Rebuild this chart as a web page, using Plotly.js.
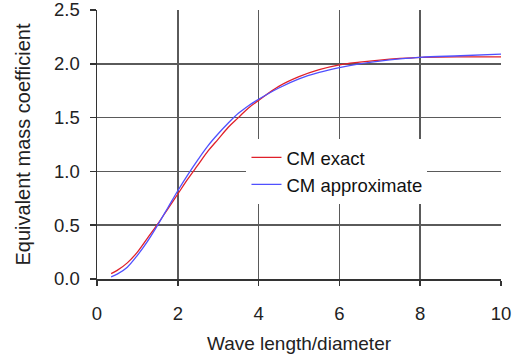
<!DOCTYPE html>
<html>
<head>
<meta charset="utf-8">
<script src="https://cdn.plot.ly/plotly-3.0.1.min.js"></script>
<style>html,body{margin:0;padding:0;background:#fff;}#chart{width:512px;height:360px;}</style>
</head>
<body>
<div id="chart"></div>
<script>
const ratio = [0.35, 0.5, 0.75, 1.0, 1.25, 1.5, 1.75, 2.0, 2.25, 2.5, 2.75, 3.0, 3.25, 3.5, 3.75, 4.0, 4.5, 5.0, 5.5, 6.0, 6.5, 7.0, 7.5, 8.0, 9.0, 10.0];
const cmExact = [0.05, 0.08, 0.15, 0.25, 0.38, 0.51, 0.65, 0.79, 0.93, 1.06, 1.19, 1.30, 1.41, 1.50, 1.59, 1.66, 1.79, 1.88, 1.945, 1.99, 2.015, 2.035, 2.05, 2.06, 2.065, 2.065];
const cmApprox = [0.02, 0.045, 0.11, 0.22, 0.35, 0.50, 0.66, 0.82, 0.97, 1.11, 1.24, 1.35, 1.45, 1.54, 1.61, 1.67, 1.775, 1.86, 1.92, 1.965, 2.00, 2.025, 2.045, 2.06, 2.075, 2.09];
const xTicks = [0, 2, 4, 6, 8, 10];
const yTicks = [0, 0.5, 1.0, 1.5, 2.0, 2.5];
const yTickText = ['0.0', '0.5', '1.0', '1.5', '2.0', '2.5'];

const traces = [
  {x: ratio, y: cmExact, type: 'scatter', mode: 'lines', name: 'CM exact',
   line: {color: '#e0202a', width: 1.3, shape: 'spline'}},
  {x: ratio, y: cmApprox, type: 'scatter', mode: 'lines', name: 'CM approximate',
   line: {color: '#5050ff', width: 1.3, shape: 'spline'}}
];

const layout = {
  width: 512, height: 360,
  margin: {l: 97, r: 11, t: 10, b: 81},
  paper_bgcolor: '#fff', plot_bgcolor: '#fff',
  font: {family: 'Liberation Sans, Arial, sans-serif', size: 18.5, color: '#222'},
  showlegend: true,
  legend: {x: 0.37, y: 0.40, xanchor: 'left', yanchor: 'middle', bgcolor: '#fff',
           font: {size: 18.5, color: '#111'}, tracegroupgap: 0, itemwidth: 30},
  xaxis: {
    range: [0, 10], tickvals: xTicks, ticktext: xTicks.map(String),
    showgrid: true, gridcolor: '#5a5a5a', gridwidth: 1.5,
    showline: true, linecolor: '#333', linewidth: 1.5,
    ticks: 'outside', ticklen: 5, tickcolor: '#333', tickwidth: 1.5,
    ticklabelstandoff: 12, zeroline: false, ticklabeloverflow: 'allow',
    title: {text: 'Wave length/diameter', font: {size: 19, color: '#222'}, standoff: 14}
  },
  yaxis: {
    range: [0, 2.5], tickvals: yTicks, ticktext: yTickText,
    showgrid: true, gridcolor: '#5a5a5a', gridwidth: 1.5,
    showline: true, linecolor: '#333', linewidth: 1.5,
    ticks: 'outside', ticklen: 6, tickcolor: '#333', tickwidth: 1.5,
    ticklabelstandoff: 6, zeroline: false, ticklabeloverflow: 'allow',
    title: {text: 'Equivalent mass coefficient', font: {size: 20, color: '#222'}, standoff: 18}
  }
};

Plotly.newPlot('chart', traces, layout, {displayModeBar: false, staticPlot: true});
</script>
</body>
</html>
